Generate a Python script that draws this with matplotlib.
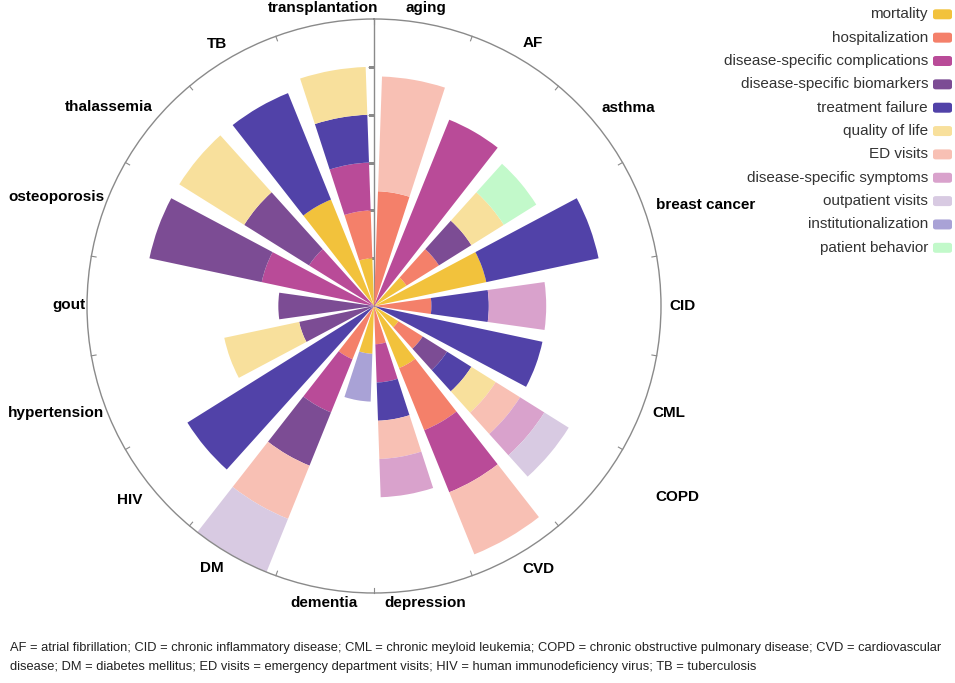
import numpy as np
import matplotlib.pyplot as plt
from matplotlib.patches import FancyBboxPatch

plt.rcParams['font.family'] = ['Liberation Sans', 'DejaVu Sans']

# diseases, clockwise from the top
categories = ['aging', 'AF', 'asthma', 'breast cancer', 'CID', 'CML', 'COPD', 'CVD',
              'depression', 'dementia', 'DM', 'HIV', 'hypertension', 'gout',
              'osteoporosis', 'thalassemia', 'TB', 'transplantation']

outcomes = ['mortality', 'hospitalization', 'disease-specific complications',
            'disease-specific biomarkers', 'treatment failure', 'quality of life',
            'ED visits', 'disease-specific symptoms', 'outpatient visits',
            'institutionalization', 'patient behavior']

colors = ['#F2C23C', '#F4806A', '#B94B98', '#7C4C94', '#5142A8', '#F8E09C',
          '#F8C0B4', '#D9A2CC', '#D8CAE2', '#A9A2D6', '#C2F9CA']

# segment sizes per disease (same order as categories)
mortality          = [0, 0, 0.8, 2.4, 0, 0, 0.6, 1.4, 0, 1.0, 0, 0, 0, 0, 0, 0, 2.4, 1.0]
hospitalization    = [2.4, 0, 0.8, 0, 1.2, 0, 0.6, 1.4, 0.8, 0, 1.2, 0, 0, 0, 0, 0, 0, 1.0]
complications      = [0, 4.2, 0, 0, 0, 0, 0, 1.4, 0.8, 0, 1.2, 0, 0, 0, 2.4, 1.6, 0, 1.0]
biomarkers         = [0, 0, 0.8, 0, 0, 0, 0.6, 0, 0, 0, 1.2, 0, 1.6, 2.0, 2.4, 1.6, 0, 0]
treatment_failure  = [0, 0, 0, 2.4, 1.2, 3.6, 0.6, 0, 0.8, 0, 0, 4.6, 0, 0, 0, 0, 2.4, 1.0]
quality_of_life    = [0, 0, 0.8, 0, 0, 0, 0.6, 0, 0, 0, 0, 0, 1.6, 0, 0, 1.6, 0, 1.0]
ed_visits          = [2.4, 0, 0, 0, 0, 0, 0.6, 1.4, 0.8, 0, 1.2, 0, 0, 0, 0, 0, 0, 0]
symptoms           = [0, 0, 0, 0, 1.2, 0, 0.6, 0, 0.8, 0, 0, 0, 0, 0, 0, 0, 0, 0]
outpatient_visits  = [0, 0, 0, 0, 0, 0, 0.6, 0, 0, 0, 1.2, 0, 0, 0, 0, 0, 0, 0]
institutionalization = [0, 0, 0, 0, 0, 0, 0, 0, 0, 1.0, 0, 0, 0, 0, 0, 0, 0, 0]
patient_behavior   = [0, 0, 0.8, 0, 0, 0, 0, 0, 0, 0, 0, 0, 0, 0, 0, 0, 0, 0]

series = [mortality, hospitalization, complications, biomarkers, treatment_failure,
          quality_of_life, ed_visits, symptoms, outpatient_visits,
          institutionalization, patient_behavior]

# where each category label sits (angle in degrees, radius)
label_pos = [(9.9, 6.32), (31.1, 6.41), (52.1, 6.75), (73.0, 7.25), (90, 6.45),
             (110, 6.55), (122.2, 7.5), (148, 6.48), (170.3, 6.3), (189.6, 6.3),
             (211.8, 6.44), (231.5, 6.53), (251.4, 7.01), (270.2, 6.37),
             (289, 7.03), (306.9, 6.92), (329, 6.38), (350.3, 6.32)]

W, H = 955, 683
fig = plt.figure(figsize=(W / 100, H / 100), dpi=100)
cx, cy, rad = 374, 306, 287
ax = fig.add_axes([(cx - rad) / W, (H - cy - rad) / H, 2 * rad / W, 2 * rad / H],
                  projection='polar')
ax.set_theta_zero_location('N')
ax.set_theta_direction(-1)

n = len(categories)
step = 2 * np.pi / n
theta = np.arange(n) * step + step / 2
bottom = np.zeros(n)
for vals, col in zip(series, colors):
    vals = np.array(vals, dtype=float)
    ax.bar(theta, vals, width=step * 0.8, bottom=bottom, color=col,
           linewidth=0, zorder=2)
    bottom += vals

ax.set_ylim(0, 6)
ax.grid(False)
ax.set_yticks([])
ax.set_xticks([])
ax.spines['polar'].set_color('#8a8a8a')
ax.spines['polar'].set_linewidth(1)

# small ticks on the outer circle between categories
for a in np.arange(n) * step:
    ax.plot([a, a], [5.9, 6], color='#8a8a8a', lw=0.8, zorder=1, clip_on=False)

# radial axis line with ticks
ax.plot([0, 0], [0, 6], color='#8a8a8a', lw=1, zorder=1)
ax.plot(np.zeros(5), [1, 2, 3, 4, 5], linestyle='none', marker=0,
        markersize=4, color='#8a8a8a', mew=0.8, zorder=1)

for name, (ang, r) in zip(categories, label_pos):
    ax.text(np.deg2rad(ang), r, name, ha='center', va='center',
            fontsize=11, fontweight='bold', color='black')

# legend, right aligned with colour boxes
for k, (name, col) in enumerate(zip(outcomes, colors)):
    yy = 14.3 + 23.35 * k
    fig.text(928 / W, 1 - yy / H, name, ha='right', va='center',
             fontsize=11, color='#333333')
    box = FancyBboxPatch((933 / W, 1 - (yy + 5) / H), 19 / W, 10 / H,
                         boxstyle='round,pad=0,rounding_size=0.003',
                         transform=fig.transFigure, facecolor=col,
                         edgecolor='none')
    fig.patches.append(box)

fig.text(10 / W, 1 - 648 / H,
         'AF = atrial fibrillation; CID = chronic inflammatory disease; CML = chronic meyloid '
         'leukemia; COPD = chronic obstructive pulmonary disease; CVD = cardiovascular',
         ha='left', va='center', fontsize=9.25, color='#222222')
fig.text(10 / W, 1 - 667 / H,
         'disease; DM = diabetes mellitus; ED visits = emergency department visits; '
         'HIV = human immunodeficiency virus; TB = tuberculosis',
         ha='left', va='center', fontsize=9.25, color='#222222')

fig.savefig('out.png', dpi=100)
